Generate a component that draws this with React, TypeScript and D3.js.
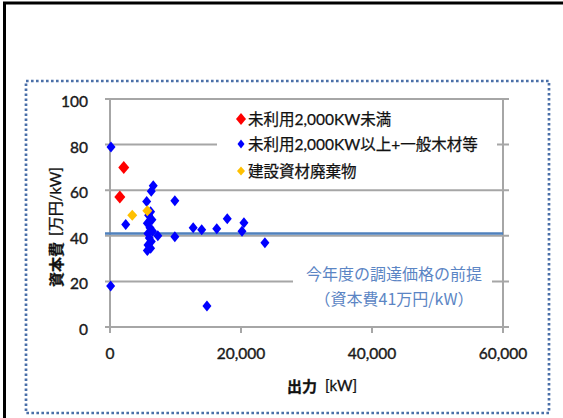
import React from "react";
import * as d3 from "d3";

const seriesRed: [number, number][] = [
  [2100, 70],
  [1500, 57],
];
const seriesYellow: [number, number][] = [
  [3400, 49],
  [5700, 51],
];
const seriesBlue: [number, number][] = [
  [150, 79],
  [2400, 45],
  [100, 18],
  [6600, 62],
  [6300, 59.5],
  [5600, 55],
  [6200, 50.5],
  [5900, 49],
  [6400, 47],
  [5700, 45.5],
  [6100, 43.5],
  [6500, 42],
  [5800, 41],
  [7300, 40],
  [6000, 39],
  [6300, 37.5],
  [5800, 36],
  [6200, 34.5],
  [5700, 33.5],
  [9900, 55.4],
  [9900, 39.6],
  [12700, 43.5],
  [14000, 42.6],
  [14800, 9.2],
  [16300, 43.1],
  [17900, 47.5],
  [20150, 42],
  [20450, 45.7],
  [23650, 37],
];
const baseline = 41;
const xTicks = [0, 20000, 40000, 60000];
const yTicks = [0, 20, 40, 60, 80, 100];
const legendLabels = ["未利用2,000KW未満", "未利用2,000KW以上+一般木材等", "建設資材廃棄物"];
const annotationLines = ["今年度の調達価格の前提", "（資本費41万円/kW）"];

const diamond = (cx: number, cy: number, w: number, h: number) =>
  `M${cx},${cy - h / 2}L${cx + w / 2},${cy}L${cx},${cy + h / 2}L${cx - w / 2},${cy}Z`;

export default function App() {
  const x = d3.scaleLinear().domain([0, 60000]).range([110, 503]);
  const y = d3.scaleLinear().domain([0, 100]).range([327, 99]);
  const grid = "#a6a6a6";
  const font = "Lato, 'Noto Sans CJK JP', sans-serif";
  const cjk = "'Noto Sans CJK JP', sans-serif";
  const fmt = d3.format(",");
  const x0 = x(0), x1 = x(60000);

  return (
    <div style={{ position: "absolute", left: 0, top: 0 }}>
      <svg width={563} height={418} style={{ display: "block", background: "#fff" }}>
        {/* outer frame */}
        <line x1={4.5} y1={2} x2={4.5} y2={418} stroke="#000" strokeWidth={3} />
        <line x1={3} y1={3} x2={563} y2={3} stroke="#000" strokeWidth={3} />
        {/* dotted border */}
        <rect x={26} y={81} width={523} height={332} fill="none" stroke="#4a6fa8"
          strokeWidth={2.7} strokeDasharray="2.6 2.4" />

        {/* gridlines */}
        {yTicks.map((t) => (
          <line key={"g" + t} x1={x0 - 5} x2={x1 + 6} y1={y(t)} y2={y(t)} stroke={grid} strokeWidth={2} />
        ))}
        {/* axes */}
        <line x1={x0} x2={x0} y1={y(100)} y2={y(0) + 6} stroke={grid} strokeWidth={2} />
        <line x1={x1} x2={x1} y1={y(100)} y2={y(0) + 6} stroke={grid} strokeWidth={2} />
        {xTicks.map((t) => (
          <line key={"xt" + t} x1={x(t)} x2={x(t)} y1={y(0)} y2={y(0) + 6} stroke={grid} strokeWidth={2} />
        ))}

        {/* baseline 41 */}
        <line x1={x0 - 5} x2={x1} y1={y(baseline)} y2={y(baseline)} stroke="#4f81bd" strokeWidth={2.5} />

        {/* legend box */}
        <rect x={217} y={106} width={280} height={78} fill="#fff" />
        {legendLabels.map((l, i) => {
          const cy = [119, 144, 171][i];
          const col = ["#ff0000", "#0000ff", "#ffc000"][i];
          const sz = [[10, 12], [7, 9], [8, 9]][i];
          return (
            <g key={l}>
              <path d={diamond(241, cy, sz[0], sz[1])} fill={col} />
              <text x={248} y={cy} dominantBaseline="central" fontFamily={font} fontSize={15.5} fill="#111"
                stroke="#111" strokeWidth={0.25}>{l}</text>
            </g>
          );
        })}

        {/* annotation box */}
        <rect x={293} y={258} width={199} height={52} fill="#fff" />
        {annotationLines.map((l, i) => (
          <text key={l} x={394} y={[273, 298][i]} textAnchor="middle" dominantBaseline="central"
            fontFamily={cjk} fontSize={16} fill="#5b85c4">{l}</text>
        ))}

        {/* points */}
        {seriesBlue.map((d, i) => (
          <path key={"b" + i} d={diamond(x(d[0]), y(d[1]), 9, 11)} fill="#0000ff" />
        ))}
        {seriesRed.map((d, i) => (
          <path key={"r" + i} d={diamond(x(d[0]), y(d[1]), 11, 13)} fill="#ff0000" />
        ))}
        {seriesYellow.map((d, i) => (
          <path key={"y" + i} d={diamond(x(d[0]), y(d[1]), 10, 11)} fill="#ffc000" />
        ))}

        {/* tick labels */}
        {yTicks.map((t) => (
          <text key={"yl" + t} x={88} y={y(t) + 2} textAnchor="end" dominantBaseline="central"
            fontFamily={font} fontSize={15.5} fill="#1a1a1a" stroke="#1a1a1a" strokeWidth={0.4}>{t}</text>
        ))}
        {xTicks.map((t) => (
          <text key={"xl" + t} x={x(t)} y={353} textAnchor="middle" dominantBaseline="central"
            fontFamily={font} fontSize={15.5} fill="#1a1a1a" stroke="#1a1a1a" strokeWidth={0.4}>{fmt(t)}</text>
        ))}

        {/* axis titles */}
        <text x={287} y={385} dominantBaseline="central" fontFamily={font} fontSize={15} fill="#111"
          stroke="#111" strokeWidth={0.3}>
          <tspan fontWeight="bold" fontFamily={cjk}>出力</tspan>
          <tspan dx={8}>[kW]</tspan>
        </text>
        <text transform="translate(55,227) rotate(-90)" textAnchor="middle" dominantBaseline="central"
          fontFamily={font} fontSize={15} fill="#111" stroke="#111" strokeWidth={0.3}>
          <tspan fontWeight="bold" fontFamily={cjk}>資本費</tspan>
          <tspan dx={6}>[万円/kW]</tspan>
        </text>
      </svg>
    </div>
  );
}
